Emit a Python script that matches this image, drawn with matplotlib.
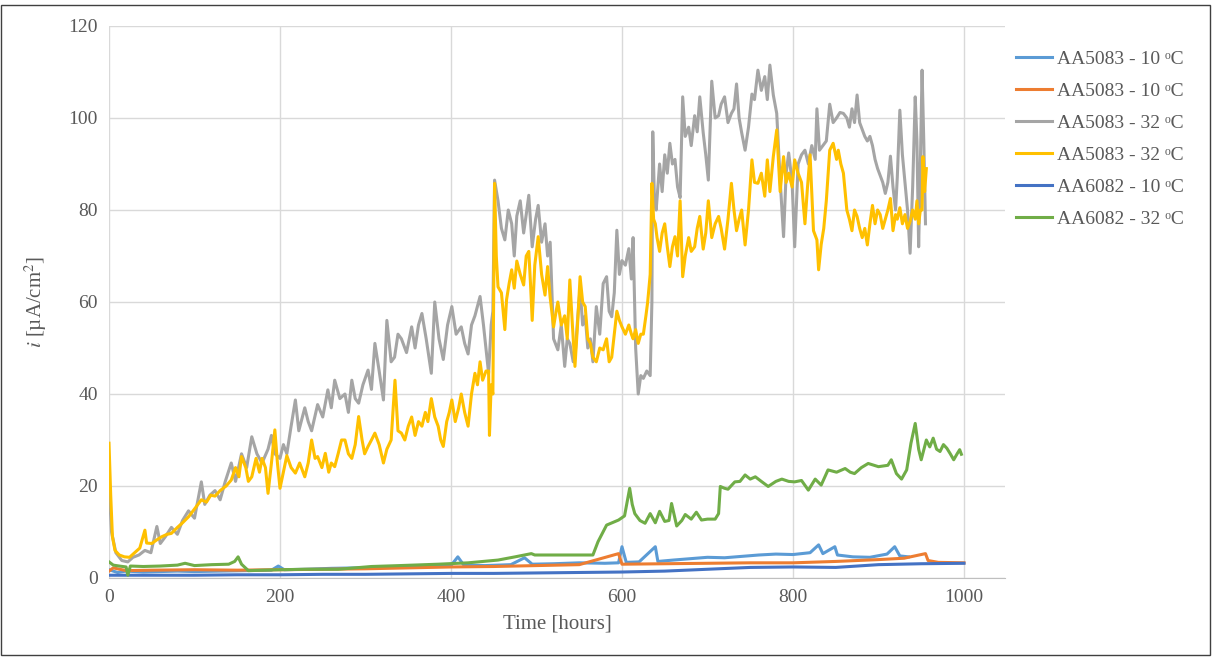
import matplotlib.pyplot as plt
from matplotlib.patches import Rectangle

plt.rcParams['font.family'] = ['Liberation Serif', 'DejaVu Serif']
plt.rcParams['mathtext.fontset'] = 'stix'

# AA5083 - 10 C (light blue)
lb_h = [0, 10, 20, 40, 60, 80, 100, 130, 160, 190, 198, 205, 230, 260, 290, 320, 350, 380, 400, 408,
        415, 440, 470, 486, 495, 520, 550, 580, 596, 600, 605, 620, 639, 642, 660, 680, 700, 720, 740,
        760, 780, 800, 820, 830, 835, 849, 852, 870, 890, 910, 919, 925, 935]
lb_v = [1.8, 1.2, 1.5, 1.3, 1.4, 1.5, 1.4, 1.5, 1.6, 1.7, 2.6, 1.8, 1.9, 2.1, 2.2, 2.4, 2.5, 2.6, 2.7, 4.6,
        2.8, 2.7, 2.9, 4.4, 3.0, 3.1, 3.3, 3.2, 3.3, 6.8, 3.4, 3.5, 6.8, 3.6, 3.9, 4.2, 4.5, 4.4, 4.7,
        5.0, 5.2, 5.1, 5.5, 7.2, 5.3, 6.8, 5.0, 4.6, 4.5, 5.2, 6.8, 4.8, 4.6]

# AA5083 - 10 C (orange)
or_h = [0, 5, 20, 50, 100, 150, 200, 250, 300, 350, 400, 450, 500, 550, 596, 600, 650, 700, 750,
        800, 850, 900, 930, 955, 958, 970, 1000]
or_v = [1.5, 2.2, 1.6, 1.7, 1.8, 1.7, 1.8, 1.9, 2.0, 2.2, 2.4, 2.5, 2.7, 2.9, 5.3, 3.0, 3.1, 3.2, 3.3,
        3.3, 3.6, 4.0, 4.3, 5.3, 3.8, 3.4, 3.3]

# AA5083 - 32 C (gray)
gr_h = [0, 3, 8, 15, 22, 28, 35, 42, 49, 56, 60, 66, 73, 80, 86, 93, 100, 108, 112, 118, 124, 130, 136,
        143, 148, 155, 161, 167, 173, 179, 186, 190, 194, 200, 204, 208, 213, 218, 222, 229, 233, 237,
        244, 250, 256, 260, 264, 270, 276, 280, 284, 288, 292, 297, 303, 307, 311, 316, 321, 325, 330,
        334, 338, 342, 348, 354, 358, 362, 366, 371, 377, 381, 386, 391, 396, 401, 406, 412, 416, 420,
        424, 428, 434, 438, 444, 447, 449, 451, 455, 459, 463, 467, 471, 474, 477, 481, 485, 488, 491,
        495, 499, 502, 506, 510, 513, 516, 520, 525, 529, 533, 536, 539, 543, 545, 548, 551, 554, 557,
        560, 563, 566, 570, 574, 578, 582, 585, 588, 591, 594, 597, 600, 604, 608, 611, 613, 616, 619,
        622, 625, 629, 633, 635, 636, 638, 640, 644, 647, 650, 653, 656, 659, 662, 665, 668, 671, 674,
        678, 681, 685, 688, 691, 695, 698, 701, 705, 709, 713, 716, 720, 724, 728, 731, 734, 737, 740,
        744, 748, 752, 755, 759, 763, 767, 770, 773, 777, 781, 785, 789, 792, 795, 799, 802, 806, 810,
        814, 818, 822, 826, 828, 831, 835, 839, 843, 847, 851, 855, 859, 863, 866, 869, 872, 875, 878,
        881, 884, 887, 890, 893, 896, 899, 902, 905, 908, 911, 914, 917, 920, 922, 925, 928, 931, 934,
        937, 940, 943, 945, 947, 949, 951, 953, 955]
gr_v = [20, 10, 5.5, 3.8, 3.5, 4.5, 5, 6, 5.5, 11.2, 7.5, 9, 11, 9.5, 12.5, 14.6, 13, 20.9, 16, 18, 19, 17, 21,
        25, 21, 27, 24, 30.7, 27, 25, 28, 31, 27, 26, 29, 27, 33, 38.7, 32, 37, 34, 32,
        37.7, 35, 40.9, 37, 43, 39, 40, 36, 43, 39, 38, 42, 45.2, 41, 51, 45, 38.7, 56, 47,
        48, 53, 52, 49, 54.6, 50, 55, 57.5, 52, 44.5, 60, 52, 47.5, 55, 59, 53, 54.6, 51, 48.7,
        55, 57, 61.2, 55, 44.5, 55, 58, 86.5, 82, 76, 73.5, 80, 77, 70, 78.7, 82, 75, 79, 83.2,
        72, 78, 81, 73, 77, 70, 73, 52, 49.6, 55, 46, 52, 51, 47, 48, 56, 63, 55, 57,
        50, 52, 47, 59, 53, 64, 65.5, 58, 56.8, 62, 75.6, 66, 69, 68, 71.6, 65, 74, 50, 40,
        44, 43.4, 45, 44, 60, 97, 82, 80, 90, 84, 92, 88, 94.5, 90, 91, 85, 82.7, 104.6, 96,
        98, 94, 100.5, 97, 104.6, 96.8, 92, 86.5, 108, 100, 100.5, 103, 104.6, 99, 101, 102, 107.4, 100, 96.8,
        93, 98, 105.2, 104, 110.4, 106, 109, 104, 111.5, 105, 101, 86.5, 74.2, 88, 92.4, 86, 72, 90, 92,
        93, 90, 94, 91, 102, 93, 94, 95, 103, 99, 100, 101.2, 101, 100, 98, 102, 99, 105, 99,
        97.5, 96, 95, 96, 94, 91, 89, 87.5, 86, 83.6, 86, 91.7, 85, 80, 87, 101.7, 92, 86, 80,
        70.6, 85, 104.6, 95, 72, 90, 110.4, 95, 77]

# AA5083 - 32 C (yellow)
ye_h = [0, 2, 4, 7, 12, 18, 24, 30, 36, 42, 44, 50, 56, 62, 68, 73, 80, 86, 93, 100, 108, 114, 119, 124,
        130, 137, 143, 148, 152, 155, 160, 163, 167, 172, 176, 179, 183, 186, 190, 194, 197, 200, 204,
        208, 213, 218, 223, 229, 233, 237, 241, 244, 249, 253, 257, 260, 264, 268, 272, 276, 280, 284,
        288, 292, 296, 299, 303, 307, 311, 316, 321, 325, 330, 334.5, 338, 342, 346, 350, 354, 358, 362,
        366, 370, 373, 377, 381, 385, 388, 391, 395, 398, 401, 405, 409, 412, 416, 420, 424, 428, 431,
        434, 437, 441, 444, 445, 447, 449, 451, 453, 455, 459, 463, 465, 468, 471, 474, 477, 481, 485,
        488, 491, 493, 495, 498, 502, 506, 510, 513, 516, 520, 523, 525, 529, 533, 536, 539, 542, 545,
        548, 551, 554, 557, 560, 563, 566, 570, 574, 578, 582, 585, 588, 591, 594, 597, 600, 604, 608,
        611, 613, 616, 619, 622, 625, 628, 630, 633, 635, 637, 639, 641, 644, 647, 650, 653, 656, 659,
        662, 665, 668, 671, 674, 678, 681, 685, 688, 691, 695, 698, 701, 705, 709, 713, 716, 720, 724,
        728, 731, 734, 737, 740, 744, 748, 752, 755, 759, 763, 767, 770, 773, 777, 781, 785, 789, 792,
        795, 799, 802, 806, 810, 814, 817, 820, 824, 828, 830, 833, 836, 839, 843, 847, 851, 853, 856,
        859, 863, 866, 869, 872, 875, 878, 881, 884, 887, 890, 893, 896, 899, 902, 905, 908, 911, 914,
        917, 920, 922, 925, 928, 931, 934, 937, 940, 943, 945, 947, 949, 951, 952, 954, 956]
ye_v = [29.3, 18, 9, 6, 5, 4.6, 4.5, 5.5, 6.5, 10.4, 7.6, 7.5, 8.3, 9, 9.5, 9.7, 11, 12, 13.3, 15, 17, 16.5, 18, 17.8,
        19, 20, 21.3, 24, 22, 26.4, 24, 21, 22, 26, 23, 26, 24, 18.4, 25, 32.2, 25, 19.5, 23,
        26.6, 24, 22.8, 25, 22, 25, 30, 26, 26.4, 24, 27.1, 23, 25, 24.2, 27, 30, 30, 27, 26,
        29, 35.1, 30, 27, 28.6, 30, 31.5, 29, 25, 28, 30, 43, 32, 31.5, 30, 33, 35, 31, 34,
        33, 36, 34, 39, 35, 33, 30, 28.6, 34, 36, 38.7, 34, 37, 40, 36, 33, 40, 44.5, 42,
        47, 43, 45, 45, 31, 42, 40, 85.8, 70, 63.3, 62, 54, 60.5, 64, 67, 63, 68.9, 66, 63.7,
        70, 71, 64, 56, 68, 74.2, 66, 61.5, 67.7, 61, 54.6, 58, 60, 55, 57, 52, 64.8, 55, 46,
        55, 65.5, 60, 59, 52, 51, 48, 47, 50, 49.6, 52, 47, 48, 53, 58, 56, 54.6, 53, 55,
        53, 52, 54, 51, 53, 53, 57, 59.9, 66, 85.8, 78, 77, 74, 71, 75, 77, 72, 67.7, 72,
        74.2, 70, 82, 65.5, 70, 74, 71, 72, 76, 78.6, 71.5, 75, 82, 74, 77, 78.6, 76, 71.5, 78,
        85.8, 80, 75.5, 78, 80, 72.4, 80, 90.9, 86, 85.8, 88, 83, 90.9, 84, 91.6, 97.4, 84, 91.6, 86,
        88, 85, 90.9, 88, 86, 77, 85, 92, 75.5, 73.5, 67, 72.5, 76, 82, 93, 94.5, 91, 93, 90,
        88, 80, 78, 75.5, 80, 78.6, 76, 74, 76, 72.4, 77, 81, 77, 80, 79, 76, 78, 80, 82.5,
        75.5, 79, 78, 80.5, 77, 79, 76, 77.5, 80, 78, 82, 77, 80, 80, 91.6, 84, 89]

# AA6082 - 10 C (dark blue)
db_h = [0, 50, 100, 150, 200, 250, 300, 350, 400, 450, 500, 550, 600, 650, 700, 750, 800, 850, 900, 950, 1000]
db_v = [0.6, 0.6, 0.6, 0.7, 0.7, 0.8, 0.8, 0.9, 1.0, 1.0, 1.1, 1.2, 1.3, 1.5, 1.9, 2.3, 2.4, 2.3, 2.9, 3.1, 3.2]

# AA6082 - 32 C (green)
gn_h = [0, 5, 12, 20, 22, 25, 40, 60, 80, 89, 100, 120, 140, 147, 151, 155, 163, 180, 200, 230, 268, 307,
        340, 385, 420, 455, 475, 494, 498, 537, 566, 572, 582, 596, 603, 609, 612, 615, 621, 627, 633,
        639, 644, 650, 655, 658, 664, 670, 674, 681, 687, 693, 700, 709, 713, 715, 720, 724, 732, 738,
        744, 750, 756, 763, 771, 780, 787, 795, 802, 810, 818, 826, 833, 841, 851, 861, 867, 872, 880,
        888, 900, 911, 915, 921, 927, 933, 938, 943, 947, 950, 956, 960, 964, 968, 972, 976, 980, 984,
        988, 992, 995, 997]
gn_v = [3.5, 2.8, 2.6, 2.4, 0.6, 2.6, 2.5, 2.6, 2.8, 3.2, 2.7, 2.9, 3.0, 3.6, 4.6, 3.0, 1.6, 1.7, 1.8, 1.9, 1.9, 2.5,
        2.7, 3.0, 3.3, 3.9, 4.6, 5.3, 5.0, 5.0, 5.0, 7.9, 11.5, 12.6, 13.5, 19.5, 16, 14, 12.5, 11.9, 14,
        12, 14.5, 12.3, 12.5, 16.2, 11.3, 12.5, 13.8, 12.8, 14.3, 12.6, 12.8, 12.8, 14, 19.9, 19.5, 19.3, 20.9, 21,
        22.4, 21.5, 22, 21, 19.9, 21, 21.5, 21, 20.9, 21.2, 19.1, 21.5, 20.2, 23.5, 23, 23.8, 23, 22.7, 24,
        24.9, 24.2, 24.5, 25.7, 22.7, 21.5, 23.5, 29.3, 33.6, 28, 25.7, 30, 28.5, 30.4, 28, 27.5, 29, 28.2, 27,
        25.7, 27, 27.9, 26.9]

labels = ['AA5083 - 10 ᵒC', 'AA5083 - 10 ᵒC', 'AA5083 - 32 ᵒC',
          'AA5083 - 32 ᵒC', 'AA6082 - 10 ᵒC', 'AA6082 - 32 ᵒC']
colors = ['#5B9BD5', '#ED7D31', '#A5A5A5', '#FFC000', '#4472C4', '#70AD47']

fig = plt.figure(figsize=(12.12, 6.57), dpi=100)
ax = fig.add_axes([109 / 1212, 1 - 578 / 657, 896 / 1212, 552 / 657])

series = [(lb_h, lb_v), (or_h, or_v), (gr_h, gr_v), (ye_h, ye_v), (db_h, db_v), (gn_h, gn_v)]
for (h, v), c, lab in zip(series, colors, labels):
    ax.plot(h, v, color=c, lw=2.2, label=lab, solid_joinstyle='round')

ax.set_xlim(0, 1048)
ax.set_ylim(0, 120)
ax.set_xticks(range(0, 1001, 200))
ax.set_yticks(range(0, 121, 20))
ax.grid(True, color='#D9D9D9', lw=1)
ax.set_axisbelow(True)
for s in ['top', 'right', 'left']:
    ax.spines[s].set_visible(False)
ax.spines['bottom'].set_color('#BFBFBF')
ax.tick_params(length=0, labelsize=14, colors='#595959', pad=8)
ax.set_xlabel('Time [hours]', fontsize=15, color='#595959', labelpad=6)
ax.set_ylabel('$i$ [µA/cm$^2$]', fontsize=15, color='#595959', labelpad=14)

leg = fig.legend(loc='upper left', bbox_to_anchor=(998 / 1212, 1 - 33 / 657), frameon=False,
                 fontsize=14, handlelength=1.9, handletextpad=0.25, labelspacing=0.74)
for line in leg.get_lines():
    line.set_linewidth(2.2)
for t in leg.get_texts():
    t.set_color('#595959')

fig.patches.append(Rectangle((0.001, 0.003), 0.997, 0.99, transform=fig.transFigure,
                             fill=False, edgecolor='#404040', lw=1))

fig.savefig('out.png', dpi=100)
